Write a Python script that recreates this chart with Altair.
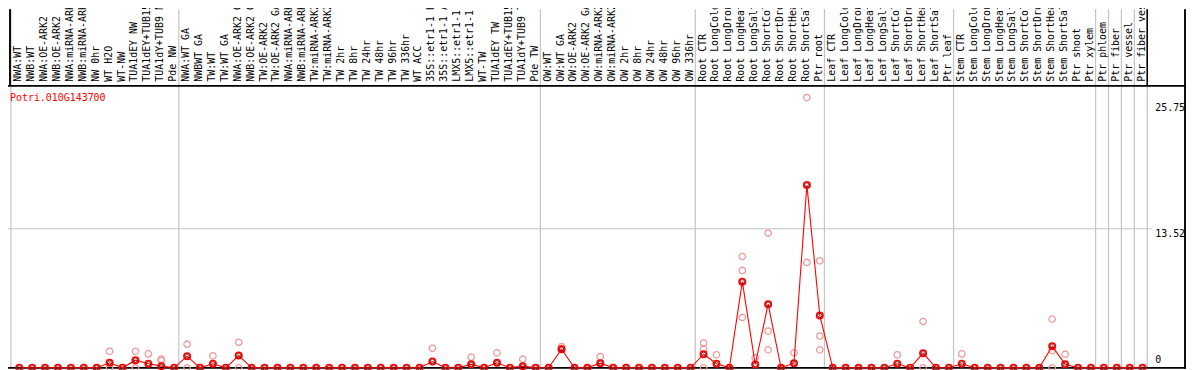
import altair as alt
import pandas as pd

# ---------------- data ----------------
gene = "Potri.010G143700"

group_sizes = [13, 28, 12, 10, 10, 11, 1, 1, 1, 1]

labels = [
    # group 1
    "NWA:WT", "NWB:WT", "NWA:OE-ARK2", "NWB:OE-ARK2", "NWA:miRNA-ARK2", "NWB:miRNA-ARK2",
    "NW 0hr", "WT H2O", "WT-NW", "TUA1dEY NW", "TUA1dEY+TUB15 NW", "TUA1dY+TUB9 NW", "Pde NW",
    # group 2
    "NWA:WT GA", "NWBWT GA", "TW:WT", "TW:WT GA", "NWA:OE-ARK2 GA", "NWB:OE-ARK2 GA",
    "TW:OE-ARK2", "TW:OE-ARK2 GA", "NWA:miRNA-ARK2", "NWB:miRNA-ARK2", "TW:miRNA-ARK2",
    "TW:miRNA-ARK2", "TW 2hr", "TW 8hr", "TW 24hr", "TW 48hr", "TW 96hr", "TW 336hr", "WT ACC",
    "35S::etr1-1 H2O", "35S::etr1-1 ACC", "LMX5::etr1-1 H2O", "LMX5::etr1-1 ACC", "WT-TW",
    "TUA1dEY TW", "TUA1dEY+TUB15 TW", "TUA1dY+TUB9 TW", "Pde TW",
    # group 3
    "OW:WT", "OW:WT GA", "OW:OE-ARK2", "OW:OE-ARK2 GA", "OW:miRNA-ARK2", "OW:miRNA-ARK2",
    "OW 2hr", "OW 8hr", "OW 24hr", "OW 48hr", "OW 96hr", "OW 336hr",
    # root
    "Root CTR", "Root LongCold", "Root LongDrought", "Root LongHeat", "Root LongSalt",
    "Root ShortCold", "Root ShortDrought", "Root ShortHeat", "Root ShortSalt", "Ptr root",
    # leaf
    "Leaf CTR", "Leaf LongCold", "Leaf LongDrought", "Leaf LongHeat", "Leaf LongSalt",
    "Leaf ShortCold", "Leaf ShortDrought", "Leaf ShortHeat", "Leaf ShortSalt", "Ptr leaf",
    # stem
    "Stem CTR", "Stem LongCold", "Stem LongDrought", "Stem LongHeat", "Stem LongSalt",
    "Stem ShortCold", "Stem ShortDrought", "Stem ShortHeat", "Stem ShortSalt", "Ptr shoot",
    "Ptr xylem",
    # singles
    "Ptr phloem", "Ptr fiber", "Ptr vessel", "Ptr fiber vessel",
]

means = [
    0, 0, 0, 0, 0, 0, 0, 0.48, 0, 0.74, 0.39, 0.16, 0,
    1.13, 0, 0.39, 0, 1.19, 0, 0, 0, 0, 0, 0, 0, 0, 0, 0, 0, 0, 0, 0,
    0.61, 0, 0, 0.35, 0, 0.48, 0, 0.16, 0,
    0, 1.80, 0, 0, 0.45, 0, 0, 0, 0, 0, 0, 0,
    1.32, 0.39, 0, 8.37, 0.32, 6.18, 0, 0.45, 17.77, 5.09,
    0, 0, 0, 0, 0, 0.39, 0, 1.42, 0, 0,
    0.39, 0, 0, 0, 0, 0, 0, 2.10, 0.35, 0, 0,
    0, 0, 0, 0,
]

replicates = [
    [], [], [], [], [], [], [], [1.60, 0], [], [1.60, 0], [1.35], [0.84, 0.70], [],
    [2.29, 0], [], [1.16], [], [2.48, 0], [], [], [], [], [], [], [], [], [], [], [], [], [], [],
    [1.90], [], [], [1.03], [], [1.45], [], [0.84], [],
    [], [2.06, 1.90], [], [], [1.09], [], [], [], [], [], [], [],
    [2.41, 1.83, 0], [1.26], [], [10.82, 9.46, 4.89], [0.97], [13.10, 3.57, 1.74], [], [1.45],
    [26.27, 10.24], [10.40, 3.09, 1.74],
    [], [], [], [], [], [1.26], [], [4.50, 0], [], [],
    [1.35], [], [], [], [], [], [], [4.73, 1.67, 0], [1.32], [], [],
    [], [], [], [],
]

tick_values = [13.52, 25.75]
tick_labels = ["13.52", "25.75"]
zero_label = "0"

# ---------------- tables ----------------
idx = list(range(len(labels)))
df_mean = pd.DataFrame({"i": idx, "label": labels, "v": means})
rep_rows = [{"i": i, "v": r} for i, reps in enumerate(replicates) for r in reps]
df_rep = pd.DataFrame(rep_rows)

bounds = [0]
for g in group_sizes:
    bounds.append(bounds[-1] + g)
df_bound = pd.DataFrame({"b": [b - 0.64 for b in bounds]})
df_ticks = pd.DataFrame({"v": tick_values, "t": tick_labels})

# ---------------- scales ----------------
W, H = 1186, 362
xs = alt.Scale(domain=[-0.8692, 90.3615], nice=False, zero=False)
ys = alt.Scale(domain=[-0.0966, 34.862], nice=False, zero=False)
X = lambda f: alt.X(f, scale=xs, axis=None)
Y = lambda f: alt.Y(f, scale=ys, axis=None)
FONT = "DejaVu Sans Mono"
GRID = "#c4c4c4"

seps = alt.Chart(df_bound).mark_rule(color=GRID, strokeWidth=1.2).encode(
    x=X("b:Q"), y=alt.value(0), y2=alt.value(H)
)
grid = alt.Chart(df_ticks).transform_filter("datum.v < 20").mark_rule(
    color=GRID, strokeWidth=1.2
).encode(y=Y("v:Q"), x=alt.value(0), x2=alt.value(1152))

header_line = alt.Chart(df_ticks).mark_rule(color="black", strokeWidth=1.5).encode(
    y=alt.value(77), x=alt.value(0), x2=alt.value(W)
)
header_vline = alt.Chart(df_ticks).mark_rule(color="black", strokeWidth=1.5).encode(
    x=alt.value(2), y=alt.value(0), y2=alt.value(77)
)
header_vline2 = alt.Chart(df_ticks).mark_rule(color="black", strokeWidth=1.2).encode(
    x=alt.value(1147), y=alt.value(0), y2=alt.value(77)
)
right_border = alt.Chart(df_ticks).mark_rule(color="black", strokeWidth=1.5).encode(
    x=alt.value(W - 1), y=alt.value(0), y2=alt.value(H)
)
baseline = alt.Chart(df_ticks).mark_rule(color="black", strokeWidth=1.5).encode(
    y=alt.value(361), x=alt.value(0), x2=alt.value(W)
)

reps = alt.Chart(df_rep).mark_point(
    shape="circle", filled=False, size=42, strokeWidth=1.3, color="#f09a9a", opacity=1
).encode(x=X("i:Q"), y=Y("v:Q"))

line = alt.Chart(df_mean).mark_line(color="#ff0000", strokeWidth=1.1).encode(
    x=X("i:Q"), y=Y("v:Q"), order="i:Q"
)
mean_pts = alt.Chart(df_mean).mark_point(
    shape="circle", filled=False, size=42, strokeWidth=1.6, color="#ff0000", opacity=1
).encode(x=X("i:Q"), y=Y("v:Q"))
mean_inner = alt.Chart(df_mean).mark_point(
    shape="circle", filled=False, size=18, strokeWidth=1, color="#600000", opacity=0.8
).encode(x=X("i:Q"), y=Y("v:Q"))

cat_text = alt.Chart(df_mean).mark_text(
    angle=270, align="left", baseline="middle", font=FONT, fontSize=10, color="black", dy=-1
).encode(x=X("i:Q"), y=alt.value(73), text="label:N")

gene_text = alt.Chart(df_ticks).transform_filter("datum.v > 20").mark_text(
    align="left", baseline="middle", font=FONT, fontSize=10, color="#ff0000"
).encode(x=alt.value(2), y=alt.value(89), text=alt.value(gene))

tick_text = alt.Chart(df_ticks).mark_text(
    align="left", baseline="top", font=FONT, fontSize=10, color="black"
).encode(x=alt.value(1155), y=Y("v:Q"), text="t:N")

zero_text = alt.Chart(df_ticks).transform_filter("datum.v > 20").mark_text(
    align="left", baseline="bottom", font=FONT, fontSize=10, color="black"
).encode(x=alt.value(1155), y=alt.value(358), text=alt.value(zero_label))

chart = alt.layer(
    seps, grid, header_line, header_vline, header_vline2, right_border, baseline,
    reps, line, mean_pts, mean_inner, cat_text, gene_text, tick_text, zero_text,
).properties(
    width=W, height=H, autosize=alt.AutoSizeParams(type="none"), padding=0,
    background="white",
).configure_view(strokeWidth=0)

chart.save("out.html", embed_options={"renderer": "svg", "actions": False})
